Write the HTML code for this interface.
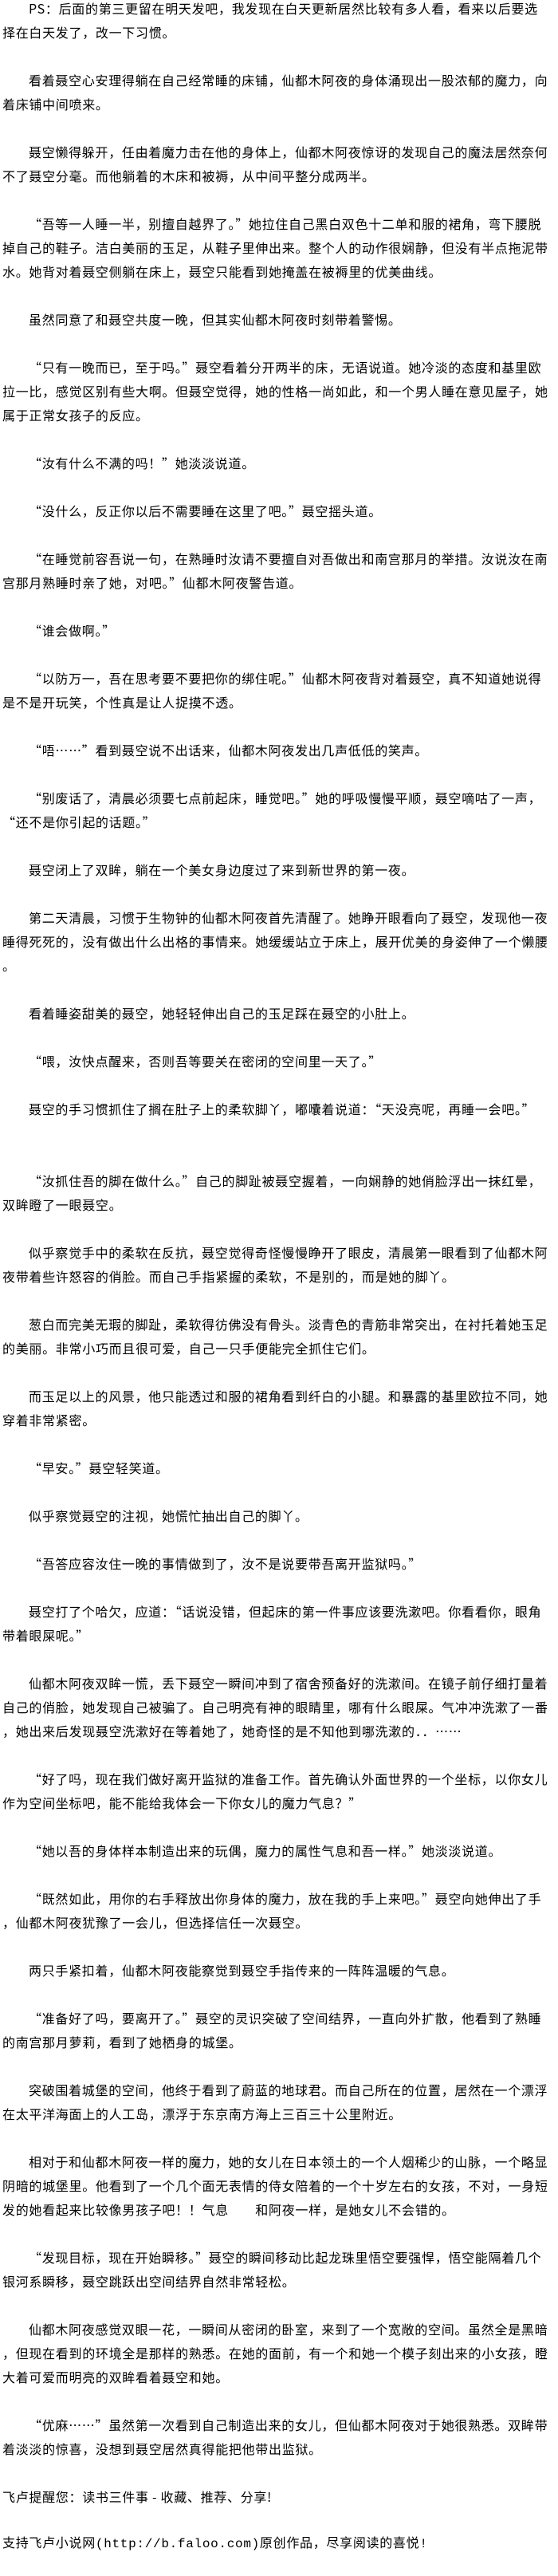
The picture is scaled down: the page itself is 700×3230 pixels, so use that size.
<!DOCTYPE html>
<html><head><meta charset="utf-8"><style>
html,body{margin:0;padding:0;background:#fff;}
body{width:700px;height:3230px;overflow:hidden;}
#c{margin-top:-5px;padding-left:3px;font-family:"Noto Sans CJK SC","WenQuanYi Zen Hei","Liberation Sans",sans-serif;font-size:16px;letter-spacing:0.7px;color:#000;}
#c div{height:30px;line-height:30px;white-space:nowrap;}
#c .i{padding-left:33px;}
</style></head><body><div id="c">
<div class="i">PS：后面的第三更留在明天发吧，我发现在白天更新居然比较有多人看，看来以后要选</div>
<div>择在白天发了，改一下习惯。</div>
<div>&nbsp;</div>
<div class="i">看着聂空心安理得躺在自己经常睡的床铺，仙都木阿夜的身体涌现出一股浓郁的魔力，向</div>
<div>着床铺中间喷来。</div>
<div>&nbsp;</div>
<div class="i">聂空懒得躲开，任由着魔力击在他的身体上，仙都木阿夜惊讶的发现自己的魔法居然奈何</div>
<div>不了聂空分毫。而他躺着的木床和被褥，从中间平整分成两半。</div>
<div>&nbsp;</div>
<div class="i">“吾等一人睡一半，别擅自越界了。”她拉住自己黑白双色十二单和服的裙角，弯下腰脱</div>
<div>掉自己的鞋子。洁白美丽的玉足，从鞋子里伸出来。整个人的动作很娴静，但没有半点拖泥带</div>
<div>水。她背对着聂空侧躺在床上，聂空只能看到她掩盖在被褥里的优美曲线。</div>
<div>&nbsp;</div>
<div class="i">虽然同意了和聂空共度一晚，但其实仙都木阿夜时刻带着警惕。</div>
<div>&nbsp;</div>
<div class="i">“只有一晚而已，至于吗。”聂空看着分开两半的床，无语说道。她冷淡的态度和基里欧</div>
<div>拉一比，感觉区别有些大啊。但聂空觉得，她的性格一尚如此，和一个男人睡在意见屋子，她</div>
<div>属于正常女孩子的反应。</div>
<div>&nbsp;</div>
<div class="i">“汝有什么不满的吗！”她淡淡说道。</div>
<div>&nbsp;</div>
<div class="i">“没什么，反正你以后不需要睡在这里了吧。”聂空摇头道。</div>
<div>&nbsp;</div>
<div class="i">“在睡觉前容吾说一句，在熟睡时汝请不要擅自对吾做出和南宫那月的举措。汝说汝在南</div>
<div>宫那月熟睡时亲了她，对吧。”仙都木阿夜警告道。</div>
<div>&nbsp;</div>
<div class="i">“谁会做啊。”</div>
<div>&nbsp;</div>
<div class="i">“以防万一，吾在思考要不要把你的绑住呢。”仙都木阿夜背对着聂空，真不知道她说得</div>
<div>是不是开玩笑，个性真是让人捉摸不透。</div>
<div>&nbsp;</div>
<div class="i">“唔……”看到聂空说不出话来，仙都木阿夜发出几声低低的笑声。</div>
<div>&nbsp;</div>
<div class="i">“别废话了，清晨必须要七点前起床，睡觉吧。”她的呼吸慢慢平顺，聂空嘀咕了一声，</div>
<div>“还不是你引起的话题。”</div>
<div>&nbsp;</div>
<div class="i">聂空闭上了双眸，躺在一个美女身边度过了来到新世界的第一夜。</div>
<div>&nbsp;</div>
<div class="i">第二天清晨，习惯于生物钟的仙都木阿夜首先清醒了。她睁开眼看向了聂空，发现他一夜</div>
<div>睡得死死的，没有做出什么出格的事情来。她缓缓站立于床上，展开优美的身姿伸了一个懒腰</div>
<div>。</div>
<div>&nbsp;</div>
<div class="i">看着睡姿甜美的聂空，她轻轻伸出自己的玉足踩在聂空的小肚上。</div>
<div>&nbsp;</div>
<div class="i">“喂，汝快点醒来，否则吾等要关在密闭的空间里一天了。”</div>
<div>&nbsp;</div>
<div class="i">聂空的手习惯抓住了搁在肚子上的柔软脚丫，嘟囔着说道：“天没亮呢，再睡一会吧。”</div>
<div>&nbsp;</div>
<div>&nbsp;</div>
<div class="i">“汝抓住吾的脚在做什么。”自己的脚趾被聂空握着，一向娴静的她俏脸浮出一抹红晕，</div>
<div>双眸瞪了一眼聂空。</div>
<div>&nbsp;</div>
<div class="i">似乎察觉手中的柔软在反抗，聂空觉得奇怪慢慢睁开了眼皮，清晨第一眼看到了仙都木阿</div>
<div>夜带着些许怒容的俏脸。而自己手指紧握的柔软，不是别的，而是她的脚丫。</div>
<div>&nbsp;</div>
<div class="i">葱白而完美无瑕的脚趾，柔软得彷佛没有骨头。淡青色的青筋非常突出，在衬托着她玉足</div>
<div>的美丽。非常小巧而且很可爱，自己一只手便能完全抓住它们。</div>
<div>&nbsp;</div>
<div class="i">而玉足以上的风景，他只能透过和服的裙角看到纤白的小腿。和暴露的基里欧拉不同，她</div>
<div>穿着非常紧密。</div>
<div>&nbsp;</div>
<div class="i">“早安。”聂空轻笑道。</div>
<div>&nbsp;</div>
<div class="i">似乎察觉聂空的注视，她慌忙抽出自己的脚丫。</div>
<div>&nbsp;</div>
<div class="i">“吾答应容汝住一晚的事情做到了，汝不是说要带吾离开监狱吗。”</div>
<div>&nbsp;</div>
<div class="i">聂空打了个哈欠，应道：“话说没错，但起床的第一件事应该要洗漱吧。你看看你，眼角</div>
<div>带着眼屎呢。”</div>
<div>&nbsp;</div>
<div class="i">仙都木阿夜双眸一慌，丢下聂空一瞬间冲到了宿舍预备好的洗漱间。在镜子前仔细打量着</div>
<div>自己的俏脸，她发现自己被骗了。自己明亮有神的眼睛里，哪有什么眼屎。气冲冲洗漱了一番</div>
<div>，她出来后发现聂空洗漱好在等着她了，她奇怪的是不知他到哪洗漱的．．……</div>
<div>&nbsp;</div>
<div class="i">“好了吗，现在我们做好离开监狱的准备工作。首先确认外面世界的一个坐标，以你女儿</div>
<div>作为空间坐标吧，能不能给我体会一下你女儿的魔力气息？”</div>
<div>&nbsp;</div>
<div class="i">“她以吾的身体样本制造出来的玩偶，魔力的属性气息和吾一样。”她淡淡说道。</div>
<div>&nbsp;</div>
<div class="i">“既然如此，用你的右手释放出你身体的魔力，放在我的手上来吧。”聂空向她伸出了手</div>
<div>，仙都木阿夜犹豫了一会儿，但选择信任一次聂空。</div>
<div>&nbsp;</div>
<div class="i">两只手紧扣着，仙都木阿夜能察觉到聂空手指传来的一阵阵温暖的气息。</div>
<div>&nbsp;</div>
<div class="i">“准备好了吗，要离开了。”聂空的灵识突破了空间结界，一直向外扩散，他看到了熟睡</div>
<div>的南宫那月萝莉，看到了她栖身的城堡。</div>
<div>&nbsp;</div>
<div class="i">突破围着城堡的空间，他终于看到了蔚蓝的地球君。而自己所在的位置，居然在一个漂浮</div>
<div>在太平洋海面上的人工岛，漂浮于东京南方海上三百三十公里附近。</div>
<div>&nbsp;</div>
<div class="i">相对于和仙都木阿夜一样的魔力，她的女儿在日本领土的一个人烟稀少的山脉，一个略显</div>
<div>阴暗的城堡里。他看到了一个几个面无表情的侍女陪着的一个十岁左右的女孩，不对，一身短</div>
<div>发的她看起来比较像男孩子吧！！气息　　和阿夜一样，是她女儿不会错的。</div>
<div>&nbsp;</div>
<div class="i">“发现目标，现在开始瞬移。”聂空的瞬间移动比起龙珠里悟空要强悍，悟空能隔着几个</div>
<div>银河系瞬移，聂空跳跃出空间结界自然非常轻松。</div>
<div>&nbsp;</div>
<div class="i">仙都木阿夜感觉双眼一花，一瞬间从密闭的卧室，来到了一个宽敞的空间。虽然全是黑暗</div>
<div>，但现在看到的环境全是那样的熟悉。在她的面前，有一个和她一个模子刻出来的小女孩，瞪</div>
<div>大着可爱而明亮的双眸看着聂空和她。</div>
<div>&nbsp;</div>
<div class="i">“优麻……”虽然第一次看到自己制造出来的女儿，但仙都木阿夜对于她很熟悉。双眸带</div>
<div>着淡淡的惊喜，没想到聂空居然真得能把他带出监狱。</div>
<div>&nbsp;</div>
<div>飞卢提醒您：读书三件事 - 收藏、推荐、分享!</div>
<div>&nbsp;</div>
<div style="font-family:'Liberation Mono','Noto Sans CJK SC',monospace;letter-spacing:0.7px">支持飞卢小说网(http://b.faloo.com)原创作品，尽享阅读的喜悦!</div>
</div></body></html>
